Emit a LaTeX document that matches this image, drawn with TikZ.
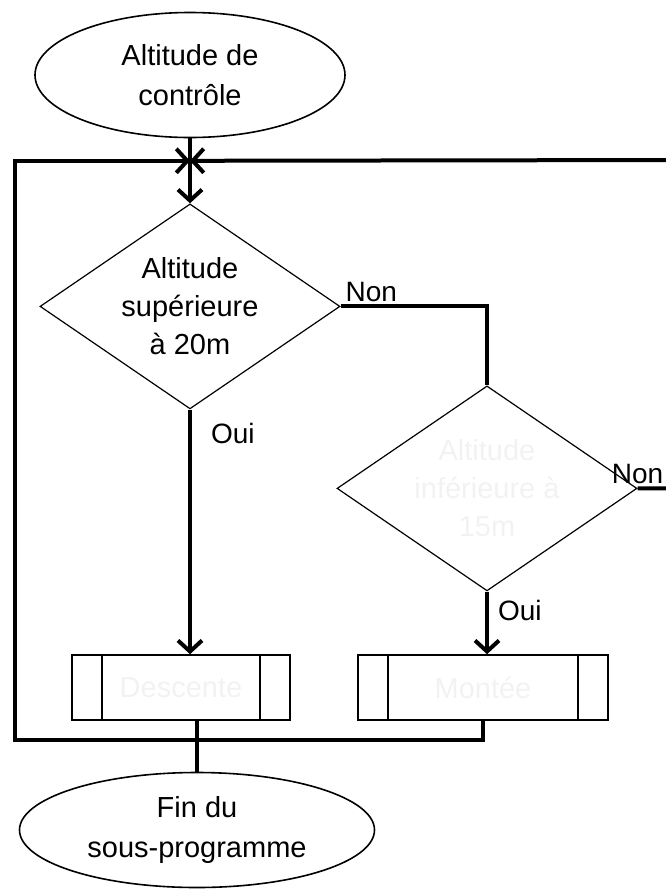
\documentclass[tikz,border=0pt]{standalone}
\usepackage{fontspec}
\setmainfont{Liberation Sans}
\usetikzlibrary{positioning, arrows.meta, shapes.geometric, calc}

\begin{document}
\begin{tikzpicture}[
  terminal/.style={draw, ellipse, line width=0.8pt, inner sep=0pt, align=center,
                   font=\fontsize{14.5}{20}\selectfont},
  decision/.style={draw, diamond, aspect=1.5, inner sep=0pt, minimum width=150pt,
                   minimum height=102.5pt, line width=0.6pt, align=center,
                   font=\fontsize{14.5}{19}\selectfont},
  process/.style={draw, rectangle, minimum height=32.5pt, line width=0.8pt,
                  font=\fontsize{14.5}{19}\selectfont,
                  path picture={
                    \draw[line width=0.8pt]
                      ([xshift=15pt]path picture bounding box.north west) -- ([xshift=15pt]path picture bounding box.south west)
                      ([xshift=-15pt]path picture bounding box.north east) -- ([xshift=-15pt]path picture bounding box.south east);
                  }},
  faint/.style={text=black!5},
  flow/.style={line width=2pt},
  arr/.style={flow, -{Straight Barb[length=5.5pt, width=12pt]}},
  lbl/.style={font=\fontsize{14}{16}\selectfont, inner sep=1.5pt},
]
\useasboundingbox (0,0) rectangle (332.5pt,-447.5pt);

% ===== NODES =====
\node[terminal, minimum width=155pt, minimum height=62.5pt] (debut) at (95pt,-37.5pt) {Altitude de\\contrôle};
\coordinate[below=11.25pt of debut] (j);
\node[decision, below=32.5pt of debut] (d1) {Altitude\\supérieure\\à 20m};
\node[decision, faint] (d2) at ($(d1)+(148.5pt,-91pt)$) {Altitude\\inférieure à\\15m};

\node[process, faint, minimum width=109pt] (b1) at (90.5pt,-343.75pt) {Descente};
\node[process, faint, minimum width=125pt] (b2) at (241.5pt,-343.75pt) {Montée};

\node[terminal, minimum width=177.5pt, minimum height=57.5pt] (fin) at (98.5pt,-415pt) {Fin du\\sous-programme};

% loop corners
\coordinate (gauche) at (7.5pt,-370pt);
\coordinate (droite) at (345pt,-80pt);

% ===== CONNECTORS =====
\draw[flow] (debut) -- (j);
\draw[arr] (j) -- (d1.north);

\draw[flow] (d1.east) node[lbl, above right] (non1) {Non} -| (d2.north);
\draw[arr] (d1.south) -- node[lbl, right=8pt, pos=0.1] (oui1) {Oui} (d1.south |- b1.north);

\draw[arr] (d2.east) node[lbl, above] (non2) {Non} -| (droite) -- (j);
\draw[arr] (d2.south) -- node[lbl, right=3pt, pos=0.3] (oui2) {Oui} (d2.south |- b2.north);

% back to the top
\draw[arr] (b2.south) |- (gauche) |- (j);
\draw[flow] (fin.north |- b1.south) -- (fin.north);

\end{tikzpicture}
\end{document}
